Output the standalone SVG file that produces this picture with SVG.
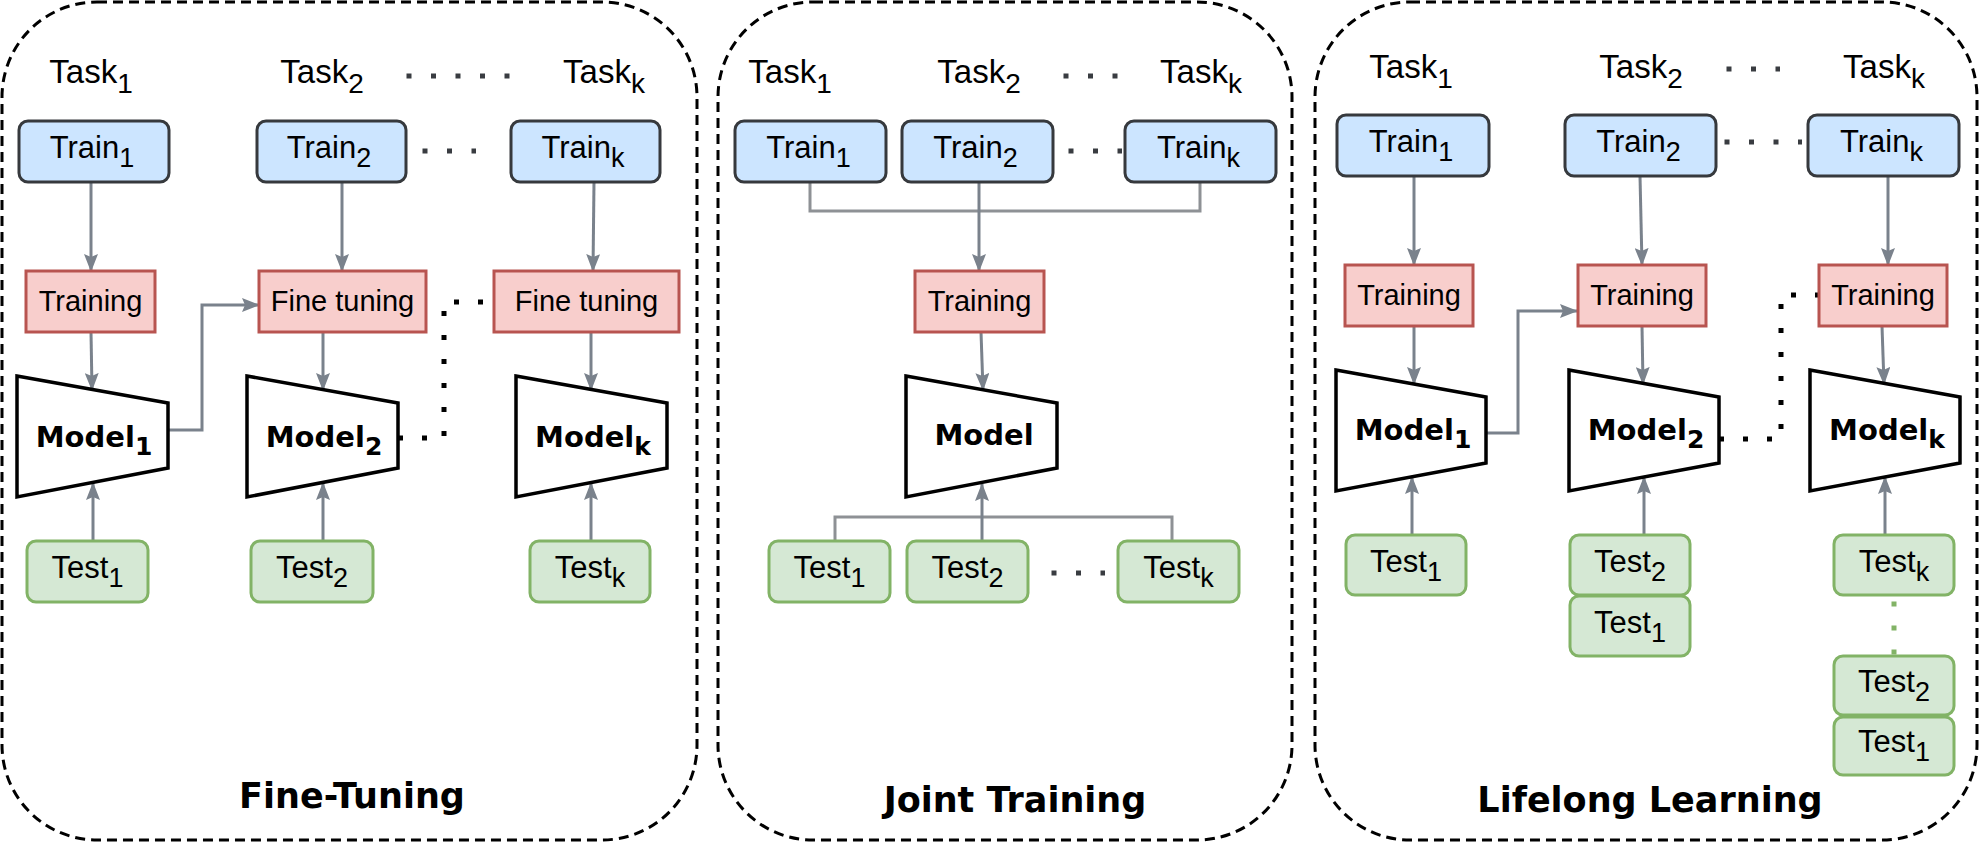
<svg xmlns="http://www.w3.org/2000/svg" width="1980" height="849" viewBox="0 0 1980 849">
<style>
.panel{fill:none;stroke:#000;stroke-width:3;stroke-dasharray:10 6}
.train{fill:#cce5ff;stroke:#36393d;stroke-width:3}
.proc{fill:#f8cecc;stroke:#b85450;stroke-width:3}
.test{fill:#d5e8d4;stroke:#82b366;stroke-width:3}
.model{fill:#fff;stroke:#000;stroke-width:3.5;stroke-linejoin:miter}
.lbl{font-family:"Liberation Sans",Arial,sans-serif;font-size:31px;text-anchor:middle;fill:#000}
.task{font-size:33px}
.sub{font-size:27px}
.tsub{font-size:28px}
.pt{font-size:29px}
.mdl{font-family:"DejaVu Sans",Verdana,sans-serif;font-weight:bold;font-size:29px;text-anchor:middle}
.msub{font-size:25px}
.title{font-family:"DejaVu Sans",Verdana,sans-serif;font-weight:bold;font-size:35px;text-anchor:middle}
.arr{fill:none;stroke:#7a828c;stroke-width:3;marker-end:url(#ah)}
.brk{fill:none;stroke:#8e9195;stroke-width:3}
.dots{fill:none;stroke:#393c41;stroke-width:5;stroke-dasharray:5 19.5}
.dotc{fill:none;stroke:#000;stroke-width:5;stroke-dasharray:5 19}
.dotg{fill:none;stroke:#82b366;stroke-width:5;stroke-dasharray:5 19}
</style>
<defs>
<marker id="ah" viewBox="0 0 18 14" refX="17" refY="7" markerWidth="18" markerHeight="14" markerUnits="userSpaceOnUse" orient="auto">
<path d="M0,0 L18,7 L0,14 L3,7 z" fill="#7a828c"/>
</marker>
</defs>

<g id="panels">
<rect id="panel-finetuning" class="panel" x="2" y="2" width="695" height="838" rx="95" ry="95"/>
<rect id="panel-joint" class="panel" x="718" y="2" width="574" height="838" rx="95" ry="95"/>
<rect id="panel-lifelong" class="panel" x="1315" y="2" width="662" height="838" rx="95" ry="95"/>
</g>

<g id="titles">
<text class="title" x="352" y="808">Fine-Tuning</text>
<text class="title" x="1015" y="812">Joint Training</text>
<text class="title" x="1650" y="812">Lifelong Learning</text>
</g>

<g id="task-labels">
<text class="lbl task" x="91" y="83">Task<tspan class="tsub" dy="10">1</tspan></text>
<text class="lbl task" x="322" y="83">Task<tspan class="tsub" dy="10">2</tspan></text>
<text class="lbl task" x="604" y="83">Task<tspan class="tsub" dy="10">k</tspan></text>
<text class="lbl task" x="790" y="83">Task<tspan class="tsub" dy="10">1</tspan></text>
<text class="lbl task" x="979" y="83">Task<tspan class="tsub" dy="10">2</tspan></text>
<text class="lbl task" x="1201" y="83">Task<tspan class="tsub" dy="10">k</tspan></text>
<text class="lbl task" x="1411" y="78">Task<tspan class="tsub" dy="10">1</tspan></text>
<text class="lbl task" x="1641" y="78">Task<tspan class="tsub" dy="10">2</tspan></text>
<text class="lbl task" x="1884" y="78">Task<tspan class="tsub" dy="10">k</tspan></text>
</g>

<g id="connectors">
<path class="dots" d="M406.5,76 H510"/>
<path class="dots" d="M422.5,151 H476"/>
<path class="dots" d="M1063.5,76 H1118"/>
<path class="dots" d="M1068.5,151 H1122"/>
<path class="dots" d="M1051.5,573 H1105"/>
<path class="dots" d="M1726.5,69 H1780"/>
<path class="dots" d="M1724.5,142 H1802"/>
<path class="arr" d="M91,182 V271"/>
<path class="arr" d="M342,182 V271"/>
<path class="arr" d="M594,182 L593,271"/>
<path class="arr" d="M91,332 L92,390"/>
<path class="arr" d="M323,332 V390"/>
<path class="arr" d="M591,332 V390"/>
<path class="arr" d="M168,430 H202 V305 H259"/>
<path class="arr" d="M93,541 V483"/>
<path class="arr" d="M323,541 V483"/>
<path class="arr" d="M591,541 V483"/>
<path class="dotc" d="M398,438 H444 V302 H494"/>
<path class="brk" d="M810,182 V211 H1200 V182"/>
<path class="arr" d="M979,182 V271"/>
<path class="arr" d="M981,332 L983,390"/>
<path class="brk" d="M835,541 V517 H1172 V541"/>
<path class="arr" d="M982,541 V484"/>
<path class="arr" d="M1414,176 V265"/>
<path class="arr" d="M1640,176 L1642,265"/>
<path class="arr" d="M1888,176 V265"/>
<path class="arr" d="M1414,326 V384"/>
<path class="arr" d="M1642,326 L1643,384"/>
<path class="arr" d="M1882,326 L1884,384"/>
<path class="arr" d="M1486,433 H1518 V311 H1577"/>
<path class="arr" d="M1412,535 V477"/>
<path class="arr" d="M1644,535 V477"/>
<path class="arr" d="M1885,535 V477"/>
<path class="dotc" d="M1719,439 H1781 V295 H1818"/>
<path class="dotg" d="M1894,601.5 V655"/>
</g>

<g id="ft-train1"><rect class="train" x="19" y="121" width="150" height="61" rx="9"/><text class="lbl" x="92" y="158">Train<tspan class="sub" dy="9">1</tspan></text></g>
<g id="ft-train2"><rect class="train" x="257" y="121" width="149" height="61" rx="9"/><text class="lbl" x="329" y="158">Train<tspan class="sub" dy="9">2</tspan></text></g>
<g id="ft-traink"><rect class="train" x="511" y="121" width="149" height="61" rx="9"/><text class="lbl" x="583" y="158">Train<tspan class="sub" dy="9">k</tspan></text></g>
<g id="ft-training"><rect class="proc" x="26" y="271" width="129" height="61"/><text class="lbl pt" x="90.5" y="311">Training</text></g>
<g id="ft-finetune2"><rect class="proc" x="259" y="271" width="167" height="61"/><text class="lbl pt" x="342.5" y="311">Fine tuning</text></g>
<g id="ft-finetunek"><rect class="proc" x="494" y="271" width="185" height="61"/><text class="lbl pt" x="586.5" y="311">Fine tuning</text></g>
<g id="ft-model1"><path class="model" d="M17,376 L168,403 L168,468 L17,497 Z"/><text class="mdl" x="94" y="447">Model<tspan class="msub" dy="8">1</tspan></text></g>
<g id="ft-model2"><path class="model" d="M247,376 L398,403 L398,468 L247,497 Z"/><text class="mdl" x="324" y="447">Model<tspan class="msub" dy="8">2</tspan></text></g>
<g id="ft-modelk"><path class="model" d="M516,376 L667,403 L667,468 L516,497 Z"/><text class="mdl" x="593" y="447">Model<tspan class="msub" dy="8">k</tspan></text></g>
<g id="ft-test1"><rect class="test" x="27" y="541" width="121" height="61" rx="9"/><text class="lbl" x="87.5" y="578">Test<tspan class="sub" dy="9">1</tspan></text></g>
<g id="ft-test2"><rect class="test" x="251" y="541" width="122" height="61" rx="9"/><text class="lbl" x="312" y="578">Test<tspan class="sub" dy="9">2</tspan></text></g>
<g id="ft-testk"><rect class="test" x="530" y="541" width="120" height="61" rx="9"/><text class="lbl" x="590" y="578">Test<tspan class="sub" dy="9">k</tspan></text></g>

<g id="jt-train1"><rect class="train" x="735" y="121" width="151" height="61" rx="9"/><text class="lbl" x="808.5" y="158">Train<tspan class="sub" dy="9">1</tspan></text></g>
<g id="jt-train2"><rect class="train" x="902" y="121" width="151" height="61" rx="9"/><text class="lbl" x="975.5" y="158">Train<tspan class="sub" dy="9">2</tspan></text></g>
<g id="jt-traink"><rect class="train" x="1125" y="121" width="151" height="61" rx="9"/><text class="lbl" x="1198.5" y="158">Train<tspan class="sub" dy="9">k</tspan></text></g>
<g id="jt-training"><rect class="proc" x="915" y="271" width="129" height="61"/><text class="lbl pt" x="979.5" y="311">Training</text></g>
<g id="jt-model"><path class="model" d="M906,376 L1057,403 L1057,468 L906,497 Z"/><text class="mdl" x="984" y="445">Model</text></g>
<g id="jt-test1"><rect class="test" x="769" y="541" width="121" height="61" rx="9"/><text class="lbl" x="829.5" y="578">Test<tspan class="sub" dy="9">1</tspan></text></g>
<g id="jt-test2"><rect class="test" x="907" y="541" width="121" height="61" rx="9"/><text class="lbl" x="967.5" y="578">Test<tspan class="sub" dy="9">2</tspan></text></g>
<g id="jt-testk"><rect class="test" x="1118" y="541" width="121" height="61" rx="9"/><text class="lbl" x="1178.5" y="578">Test<tspan class="sub" dy="9">k</tspan></text></g>

<g id="ll-train1"><rect class="train" x="1337" y="115" width="152" height="61" rx="9"/><text class="lbl" x="1411" y="152">Train<tspan class="sub" dy="9">1</tspan></text></g>
<g id="ll-train2"><rect class="train" x="1565" y="115" width="151" height="61" rx="9"/><text class="lbl" x="1638.5" y="152">Train<tspan class="sub" dy="9">2</tspan></text></g>
<g id="ll-traink"><rect class="train" x="1808" y="115" width="151" height="61" rx="9"/><text class="lbl" x="1881.5" y="152">Train<tspan class="sub" dy="9">k</tspan></text></g>
<g id="ll-training1"><rect class="proc" x="1345" y="265" width="128" height="61"/><text class="lbl pt" x="1409" y="305">Training</text></g>
<g id="ll-training2"><rect class="proc" x="1578" y="265" width="128" height="61"/><text class="lbl pt" x="1642" y="305">Training</text></g>
<g id="ll-trainingk"><rect class="proc" x="1819" y="265" width="128" height="61"/><text class="lbl pt" x="1883" y="305">Training</text></g>
<g id="ll-model1"><path class="model" d="M1336,370 L1486,397 L1486,463 L1336,491 Z"/><text class="mdl" x="1413" y="440">Model<tspan class="msub" dy="8">1</tspan></text></g>
<g id="ll-model2"><path class="model" d="M1569,370 L1719,397 L1719,463 L1569,491 Z"/><text class="mdl" x="1646" y="440">Model<tspan class="msub" dy="8">2</tspan></text></g>
<g id="ll-modelk"><path class="model" d="M1810,370 L1960,397 L1960,463 L1810,491 Z"/><text class="mdl" x="1887" y="440">Model<tspan class="msub" dy="8">k</tspan></text></g>
<g id="ll-test1"><rect class="test" x="1346" y="535" width="120" height="60" rx="9"/><text class="lbl" x="1406" y="572">Test<tspan class="sub" dy="9">1</tspan></text></g>
<g id="ll-s2-test2"><rect class="test" x="1570" y="535" width="120" height="60" rx="9"/><text class="lbl" x="1630" y="572">Test<tspan class="sub" dy="9">2</tspan></text></g>
<g id="ll-s2-test1"><rect class="test" x="1570" y="596" width="120" height="60" rx="9"/><text class="lbl" x="1630" y="633">Test<tspan class="sub" dy="9">1</tspan></text></g>
<g id="ll-sk-testk"><rect class="test" x="1834" y="535" width="120" height="60" rx="9"/><text class="lbl" x="1894" y="572">Test<tspan class="sub" dy="9">k</tspan></text></g>
<g id="ll-sk-test2"><rect class="test" x="1834" y="656" width="120" height="59" rx="9"/><text class="lbl" x="1894" y="692">Test<tspan class="sub" dy="9">2</tspan></text></g>
<g id="ll-sk-test1"><rect class="test" x="1834" y="717" width="120" height="58" rx="9"/><text class="lbl" x="1894" y="752">Test<tspan class="sub" dy="9">1</tspan></text></g>
</svg>
